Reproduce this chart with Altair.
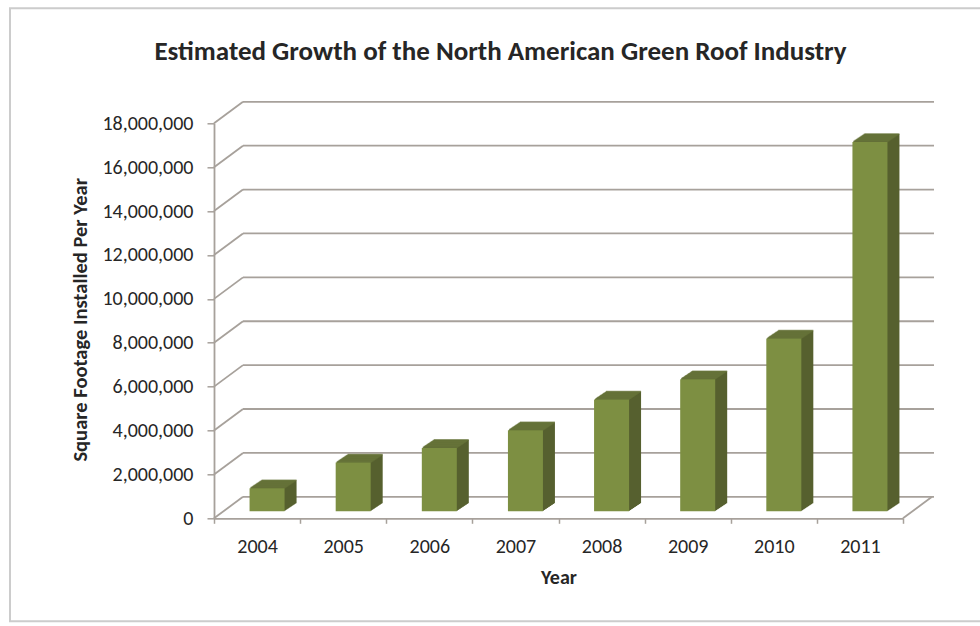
import altair as alt
import pandas as pd

# ---- data ----
years = ["2004", "2005", "2006", "2007", "2008", "2009", "2010", "2011"]
sqft = [1050000, 2220000, 2890000, 3690000, 5090000, 6020000, 7870000, 16830000]
grid_values = [0, 2000000, 4000000, 6000000, 8000000, 10000000,
               12000000, 14000000, 16000000, 18000000]

# ---- layout / style ----
W, H = 689, 395
DEPTH_X, DEPTH_Y = 29, 21.5      # back wall offset
BAR_SX, BAR_SY = 10, 7           # bar placement inside the depth
BAR_DX, BAR_DY = 12, 8           # bar extrusion
BAR_W = 35
N_LAYERS = 12
FRONT = "#7d8f42"
SIDE = "#57612f"
TOP = "#68753a"
GRID = "#a7a19b"
TEXT = "#262626"
FONT = "Carlito, Calibri, Lato"

bars_df = pd.DataFrame({"Year": years, "sqft": sqft})
grid_df = pd.DataFrame({"sqft": grid_values})
floor_df = pd.DataFrame({"sqft": [0]})
frame_df = pd.DataFrame({"a": [0]})

x_enc = alt.X(
    "Year:N", sort=years,
    scale=alt.Scale(paddingInner=0, paddingOuter=0),
    axis=alt.Axis(
        title="Year", titleFont=FONT, titleFontSize=20, titleFontWeight="bold",
        titleColor=TEXT, titleY=59, titleBaseline="middle",
        labelAngle=0, labelFont=FONT, labelFontSize=20, labelColor=TEXT,
        labelPadding=13, tickBand="extent", tickSize=5, tickColor=GRID,
        tickWidth=1.5, domainColor=GRID, domainWidth=1.8, grid=False,
    ),
)
y_enc = alt.Y(
    "sqft:Q",
    scale=alt.Scale(domain=[0, 18000000], nice=False, zero=True),
    axis=alt.Axis(
        values=grid_values, format=",d",
        title="Square Footage Installed Per Year", titleFont=FONT,
        titleFontSize=20.5, titleFontWeight="bold", titleColor=TEXT,
        titleAngle=-90, titleX=-134, titleY=196, titleAlign="center",
        titleBaseline="middle",
        labelFont=FONT, labelFontSize=20, labelColor=TEXT, labelPadding=14,
        tickSize=7, tickColor=GRID, tickWidth=1.5, domainColor=GRID,
        domainWidth=1.8, grid=False,
    ),
)

frame = alt.Chart(frame_df).mark_rect(
    fillOpacity=0, stroke="#cccccc", strokeWidth=2
).encode(
    x=alt.value(-204), x2=alt.value(W + 120), y=alt.value(-115), y2=alt.value(498)
)

back_wall = alt.Chart(grid_df).mark_rule(
    color=GRID, strokeWidth=1.8, yOffset=-DEPTH_Y
).encode(y=y_enc, x=alt.value(DEPTH_X), x2=alt.value(W + DEPTH_X + 2))

left_diag = alt.Chart(grid_df).mark_rule(
    color=GRID, strokeWidth=1.8, y2Offset=-DEPTH_Y
).encode(y=y_enc, y2=alt.Y2("sqft"), x=alt.value(0), x2=alt.value(DEPTH_X))

right_diag = alt.Chart(floor_df).mark_rule(
    color=GRID, strokeWidth=1.8, y2Offset=-DEPTH_Y
).encode(y=y_enc, y2=alt.Y2("sqft"), x=alt.value(W), x2=alt.value(W + DEPTH_X))

layers = [frame, back_wall, left_diag, right_diag]

for k in range(N_LAYERS, 0, -1):
    dx = BAR_SX + k * BAR_DX / N_LAYERS
    dy = -BAR_SY - k * BAR_DY / N_LAYERS
    layers.append(
        alt.Chart(bars_df).mark_bar(
            size=BAR_W, color=SIDE, xOffset=dx, yOffset=dy, y2Offset=dy
        ).encode(x=x_enc, y=y_enc)
    )
    layers.append(
        alt.Chart(bars_df).mark_tick(
            size=BAR_W, thickness=1.6, color=TOP, xOffset=dx, yOffset=dy
        ).encode(x=x_enc, y=y_enc)
    )

front = alt.Chart(bars_df).mark_bar(
    size=BAR_W, color=FRONT, xOffset=BAR_SX, yOffset=-BAR_SY, y2Offset=-BAR_SY
).encode(x=x_enc, y=y_enc, tooltip=["Year:N", alt.Tooltip("sqft:Q", format=",d")])
layers.append(front)

chart = alt.layer(*layers).properties(
    width=W, height=H,
    title=alt.TitleParams(
        "Estimated Growth of the North American Green Roof Industry",
        font=FONT, fontSize=27, fontWeight="bold", color=TEXT,
        anchor="middle", dx=-58, offset=-59,
    ),
    autosize=alt.AutoSizeParams(type="none"),
    padding={"left": 214, "top": 123.3, "right": 77, "bottom": 107.7},
    background="white",
).configure_view(stroke="transparent")

chart.save("out.html", embed_options={"renderer": "svg", "actions": False})
